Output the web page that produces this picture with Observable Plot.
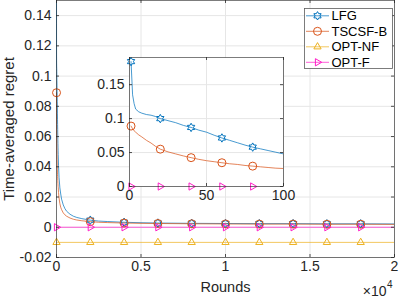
<!DOCTYPE html>
<html><head><meta charset="utf-8">
<script src="https://cdn.jsdelivr.net/npm/d3@7"></script>
<script src="https://cdn.jsdelivr.net/npm/@observablehq/plot@0.6"></script>
<style>
body{margin:0;background:#fff;}
#chart{position:relative;width:399px;height:298px;overflow:hidden;font-family:"Liberation Sans",Arial,Helvetica,sans-serif;}
#chart > svg{position:absolute;}
</style></head><body><div id="chart"></div>
<script>
// ---- data ----
const rounds = [1, 2, 3, 4, 6, 8, 11, 14, 17, 20, 25, 30, 35, 40, 45, 50, 55, 60, 65, 70, 75, 80, 85, 90, 95, 100,
  120, 150, 200, 250, 300, 400, 500, 600, 800, 1000, 1200, 1500, 2000, 2500, 3000, 4000, 5000, 6000, 8000,
  10000, 12000, 14000, 16000, 18000, 20000];
const lfg = [0.184, 0.135, 0.122, 0.114, 0.110, 0.108, 0.106, 0.105, 0.103, 0.100, 0.097, 0.094, 0.090, 0.087, 0.083, 0.080, 0.0755, 0.0715, 0.068, 0.0645, 0.061, 0.058, 0.0555, 0.053, 0.0505, 0.048,
  0.041, 0.033, 0.026, 0.022, 0.0186, 0.0148, 0.0123, 0.0106, 0.0086, 0.0073, 0.0065, 0.0057, 0.0047, 0.0041, 0.0038, 0.0033, 0.0030, 0.0028, 0.0026,
  0.0025, 0.0024, 0.0024, 0.0023, 0.0023, 0.0022];
const tscsf = [0.089, 0.085, 0.082, 0.080, 0.076, 0.073, 0.068, 0.064, 0.059, 0.055, 0.051, 0.048, 0.045, 0.0425, 0.040, 0.038, 0.0365, 0.035, 0.0335, 0.0325, 0.031, 0.030, 0.029, 0.028, 0.027, 0.0265,
  0.023, 0.0194, 0.0156, 0.0132, 0.0117, 0.0095, 0.0082, 0.0073, 0.0061, 0.0053, 0.0048, 0.0043, 0.0037, 0.0033, 0.0031, 0.0028, 0.0026, 0.0025, 0.0023,
  0.0022, 0.0021, 0.0021, 0.0020, 0.0020, 0.0019];
const optRounds = [1, 20, 40, 60, 80, 100, 2000, 4000, 6000, 8000, 10000, 12000, 14000, 16000, 18000, 20000];
const optNF = [-0.01, -0.01, -0.01, -0.01, -0.01, -0.01, -0.01, -0.01, -0.01, -0.01, -0.01, -0.01, -0.01, -0.01, -0.01, -0.01];
const optF = [0, 0, 0, 0, 0, 0, 0, 0, 0, 0, 0, 0, 0, 0, 0, 0];
const mainMarkerRounds = [1, 2000, 4000, 6000, 8000, 10000, 12000, 14000, 16000, 18000];
const insetMarkerRounds = [1, 20, 40, 60, 80];
const seriesNames = ["LFG", "TSCSF-B", "OPT-NF", "OPT-F"];
const seriesColors = ["#0072BD", "#D95319", "#EDB120", "#FF1FC8"];
const xTicksMain = [0, 5000, 10000, 15000, 20000];
const xTickLabelsMain = ["0", "0.5", "1", "1.5", "2"];
const yTicksMain = [-0.02, 0, 0.02, 0.04, 0.06, 0.08, 0.1, 0.12, 0.14];
const xTicksInset = [0, 50, 100];
const yTicksInset = [0, 0.05, 0.1, 0.15];
const xLabel = "Rounds";
const yLabel = "Time-averaged regret";

// ---- table ----
const rows = [];
rounds.forEach((r, i) => { rows.push({series: "LFG", round: r, value: lfg[i]}); });
rounds.forEach((r, i) => { rows.push({series: "TSCSF-B", round: r, value: tscsf[i]}); });
optRounds.forEach((r, i) => { rows.push({series: "OPT-NF", round: r, value: optNF[i]}); });
optRounds.forEach((r, i) => { rows.push({series: "OPT-F", round: r, value: optF[i]}); });

// ---- symbols ----
const hexagram = {draw(ctx, size) {
  const R = Math.sqrt(size / Math.PI) * 1.05, r = R / Math.sqrt(3);
  for (let i = 0; i < 12; i++) {
    const a = -Math.PI / 2 + i * Math.PI / 6, rr = i % 2 ? r : R;
    const x = rr * Math.cos(a), y = rr * Math.sin(a);
    i ? ctx.lineTo(x, y) : ctx.moveTo(x, y);
  }
  ctx.closePath();
}};
const circ = {draw(ctx, size) { const R = Math.sqrt(size / Math.PI); ctx.moveTo(R, 0); ctx.arc(0, 0, R, 0, 2 * Math.PI); ctx.closePath(); }};
const triUp = {draw(ctx, size) {
  const R = Math.sqrt(size / Math.PI) * 1.05;
  ctx.moveTo(0, -R); ctx.lineTo(R * 0.866, R / 2); ctx.lineTo(-R * 0.866, R / 2); ctx.closePath();
}};
const triRight = {draw(ctx, size) {
  const R = Math.sqrt(size / Math.PI) * 1.05;
  ctx.moveTo(R, 0); ctx.lineTo(-R / 2, R * 0.866); ctx.lineTo(-R / 2, -R * 0.866); ctx.closePath();
}};
const symbols = [hexagram, circ, triUp, triRight];

const axisColor = "#262626";
const gridColor = "#e6e6e6";
const fontFamily = '"Liberation Sans", Arial, Helvetica, sans-serif';

function dotMarks(markerRounds, yMax) {
  return seriesNames.map((s, k) => Plot.dot(rows, {
    filter: d => d.series === s && markerRounds.includes(d.round) && d.value <= yMax,
    x: "round", y: "value", r: 4, symbol: symbols[k], stroke: seriesColors[k], fill: "none", strokeWidth: 1
  }));
}
function lineMarks(filterFn) {
  return seriesNames.map((s, k) => Plot.line(rows, {
    filter: d => d.series === s && filterFn(d),
    x: "round", y: "value", stroke: seriesColors[k], strokeWidth: 0.85, strokeOpacity: 0.85, clip: true
  }));
}

// ---- main plot ----
const W = 399, H = 298, mL = 56, mR = 5, mT = 0, mB = 41;
const fw = W - mL - mR, fh = H - mT - mB;
const main = Plot.plot({
  width: W, height: H, marginLeft: mL, marginRight: mR, marginTop: mT, marginBottom: mB,
  style: {fontFamily, fontSize: "14px", color: axisColor, background: "white"},
  x: {domain: [0, 20000]},
  y: {domain: [-0.02, 0.15]},
  marks: [
    Plot.gridX(xTicksMain, {stroke: gridColor, strokeOpacity: 1}),
    Plot.gridY(yTicksMain, {stroke: gridColor, strokeOpacity: 1}),
    ...lineMarks(() => true),
    ...dotMarks(mainMarkerRounds, 0.15),
    Plot.frame({stroke: axisColor, strokeOpacity: 0.75, strokeWidth: 0.8}),
    Plot.tickX(xTicksMain, {x: d => d, insetTop: fh - 3, stroke: axisColor, strokeWidth: 0.8}),
    Plot.tickX(xTicksMain, {x: d => d, insetBottom: fh - 3, stroke: axisColor, strokeWidth: 0.8}),
    Plot.tickY(yTicksMain, {y: d => d, insetRight: fw - 3, stroke: axisColor, strokeWidth: 0.8}),
    Plot.tickY(yTicksMain, {y: d => d, insetLeft: fw - 3, stroke: axisColor, strokeWidth: 0.8}),
    Plot.axisX(xTicksMain, {tickSize: 0, tickPadding: 4, fontSize: 14, label: null,
      tickFormat: d => xTickLabelsMain[xTicksMain.indexOf(d)]}),
    Plot.axisY(yTicksMain, {tickSize: 0, tickPadding: 5, fontSize: 14, label: null, tickFormat: d => String(d)}),
    Plot.text([xLabel], {text: d => d, frameAnchor: "bottom", dy: 30, fontSize: 14.5, textAnchor: "middle", lineAnchor: "middle", fill: axisColor}),
    Plot.text([yLabel], {text: d => d, frameAnchor: "left", rotate: -90, dx: -47.5, fontSize: 15, textAnchor: "middle", lineAnchor: "middle", fill: axisColor}),
    Plot.text(["×10"], {text: d => d, frameAnchor: "bottom-right", dx: -8, dy: 38, textAnchor: "end", lineAnchor: "bottom", fontSize: 14, fill: axisColor}),
    Plot.text(["4"], {text: d => d, frameAnchor: "bottom-right", dx: -7.5, dy: 30, textAnchor: "start", lineAnchor: "bottom", fontSize: 10, fill: axisColor})
  ]
});
main.style.left = "0px"; main.style.top = "0px";
document.getElementById("chart").appendChild(main);

// ---- inset plot ----
const iW = 195, iH = 165, iL = 34, iR = 7, iT = 7, iB = 29;
const ifw = iW - iL - iR, ifh = iH - iT - iB;
const inset = Plot.plot({
  width: iW, height: iH, marginLeft: iL, marginRight: iR, marginTop: iT, marginBottom: iB,
  style: {fontFamily, fontSize: "14px", color: axisColor, background: "transparent", overflow: "visible"},
  x: {domain: [0, 100]},
  y: {domain: [0, 0.19]},
  marks: [
    Plot.frame({fill: "white"}),
    Plot.gridX(xTicksInset, {stroke: gridColor, strokeOpacity: 1}),
    Plot.gridY(yTicksInset, {stroke: gridColor, strokeOpacity: 1}),
    ...lineMarks(d => d.round <= 100 && d.series !== "OPT-NF"),
    ...dotMarks(insetMarkerRounds, 0.19).filter((m, k) => seriesNames[k] !== "OPT-NF"),
    Plot.frame({stroke: axisColor, strokeOpacity: 0.75, strokeWidth: 0.8}),
    Plot.tickX(xTicksInset, {x: d => d, insetTop: ifh - 3, stroke: axisColor, strokeWidth: 0.8}),
    Plot.tickX(xTicksInset, {x: d => d, insetBottom: ifh - 3, stroke: axisColor, strokeWidth: 0.8}),
    Plot.tickY(yTicksInset, {y: d => d, insetRight: ifw - 3, stroke: axisColor, strokeWidth: 0.8}),
    Plot.tickY(yTicksInset, {y: d => d, insetLeft: ifw - 3, stroke: axisColor, strokeWidth: 0.8}),
    Plot.axisX(xTicksInset, {tickSize: 0, tickPadding: 4, fontSize: 14, label: null, tickFormat: d => String(d)}),
    Plot.axisY(yTicksInset, {tickSize: 0, tickPadding: 5, fontSize: 14, label: null, tickFormat: d => String(d)})
  ]
});
inset.style.left = "95px"; inset.style.top = "50px";
document.getElementById("chart").appendChild(inset);

// ---- legend ----
const leg = d3.select("#chart").append("svg")
  .attr("width", W).attr("height", H)
  .style("left", "0px").style("top", "0px").style("pointer-events", "none");
leg.append("rect").attr("x", 304.5).attr("y", 8.5).attr("width", 88).attr("height", 60)
  .attr("fill", "white").attr("stroke", axisColor).attr("stroke-opacity", 0.75).attr("stroke-width", 0.8);
seriesNames.forEach((s, k) => {
  const y = 15.8 + k * 15.5;
  const g = leg.append("g");
  g.append("line").attr("x1", 306).attr("x2", 329).attr("y1", y).attr("y2", y)
    .attr("stroke", seriesColors[k]).attr("stroke-width", 0.85).attr("stroke-opacity", 0.85);
  g.append("path").attr("transform", `translate(317.5,${y})`)
    .attr("d", d3.symbol(symbols[k], 16 * Math.PI)())
    .attr("fill", "none").attr("stroke", seriesColors[k]).attr("stroke-width", 1);
  g.append("text").attr("x", 331.5).attr("y", y).attr("dy", "0.35em")
    .attr("font-family", fontFamily).attr("font-size", 13).attr("fill", "#000").text(s);
});
</script></body></html>
